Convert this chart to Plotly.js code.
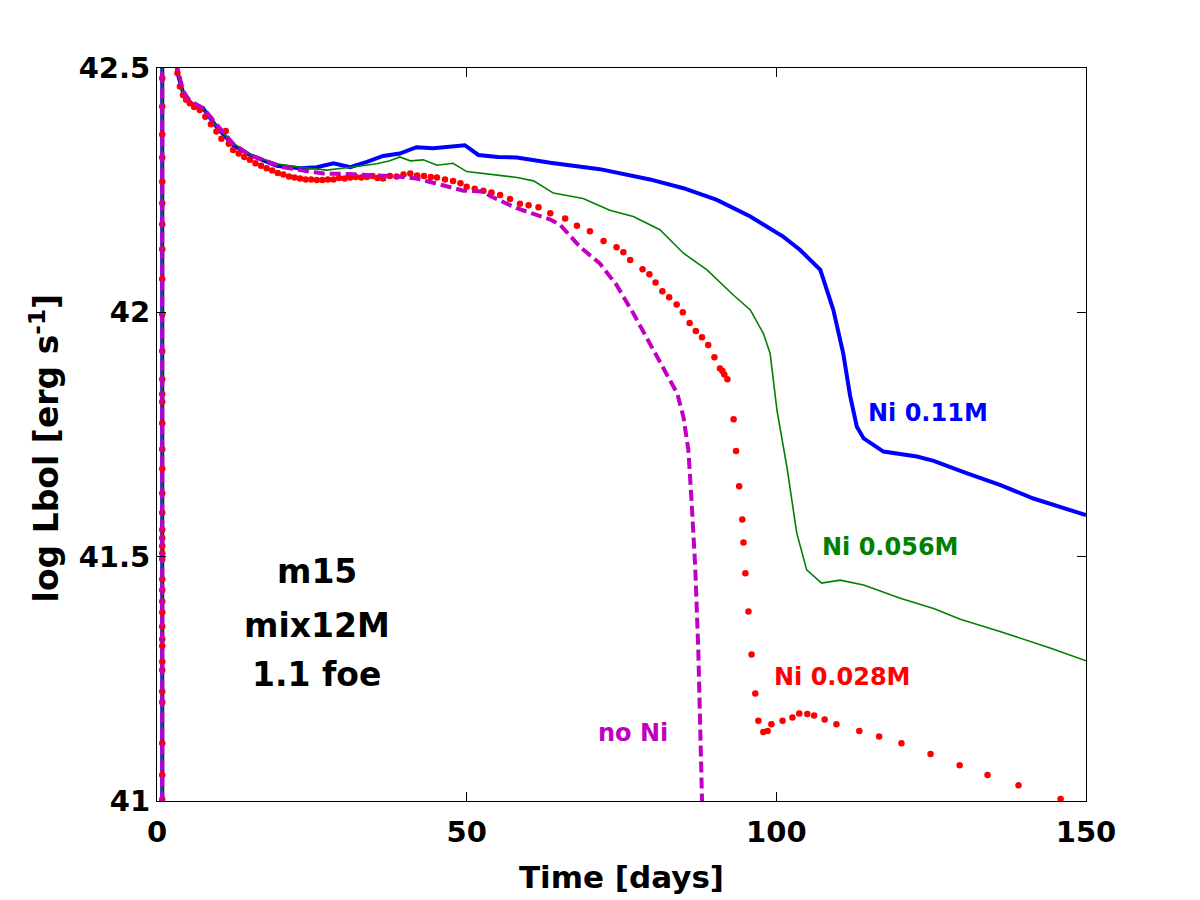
<!DOCTYPE html>
<html>
<head>
<meta charset="utf-8">
<script src="https://cdn.plot.ly/plotly-3.0.1.min.js"></script>
<style>html,body{margin:0;padding:0;background:#fff;}#plot{width:1200px;height:900px;}</style>
</head>
<body>
<div id="plot"></div>
<script>
// ---- Data ----
const blueT = [0.85, 0.85, 3.3, 4.25, 5.33, 7.48, 9.6, 12.3, 15, 19.3, 23.1, 25.8, 28.5, 31.2, 33.9, 36.5, 39.2, 40.9, 41.9, 44.6, 47.3, 49.7, 51.9, 55, 58.1, 63.5, 71.5, 79.6, 85, 90.4, 95.8, 101.1, 103.8, 107.1, 109.2, 110.8, 111.9, 113.0, 114.1, 117.3, 122.7, 125.4, 130.7, 136.1, 141.5, 150];
const blueL = [40.8, 43.0, 42.49, 42.448, 42.428, 42.417, 42.38, 42.342, 42.322, 42.30, 42.295, 42.297, 42.305, 42.297, 42.308, 42.32, 42.325, 42.333, 42.338, 42.336, 42.339, 42.342, 42.322, 42.318, 42.317, 42.306, 42.293, 42.272, 42.254, 42.23, 42.196, 42.155, 42.128, 42.087, 42.005, 41.916, 41.83, 41.766, 41.742, 41.715, 41.705, 41.696, 41.671, 41.647, 41.619, 41.585];

const greenT = [0.85, 0.85, 3.3, 4.25, 5.33, 7.48, 9.6, 12.3, 15, 19.3, 23.1, 27.4, 31.2, 35.5, 37.6, 39.2, 40.9, 43.0, 45.2, 47.8, 50.0, 52.7, 55.4, 58.1, 60.8, 62.0, 64.0, 68.8, 73.1, 76.9, 81.2, 85.0, 88.8, 93.1, 95.8, 97.9, 99.0, 100.1, 101.7, 103.3, 104.9, 107.3, 110.3, 114.1, 120, 125.4, 129.7, 136.1, 144.2, 150];
const greenL = [40.8, 43.0, 42.49, 42.448, 42.428, 42.417, 42.38, 42.346, 42.323, 42.304, 42.297, 42.291, 42.297, 42.304, 42.31, 42.318, 42.310, 42.312, 42.301, 42.305, 42.288, 42.284, 42.281, 42.276, 42.269, 42.26, 42.244, 42.233, 42.209, 42.196, 42.169, 42.121, 42.087, 42.035, 42.005, 41.957, 41.916, 41.80, 41.684, 41.548, 41.473, 41.446, 41.452, 41.442, 41.415, 41.394, 41.372, 41.347, 41.313, 41.287];

const magT = [0.85, 0.85, 3.3, 4.25, 5.33, 7.48, 9.6, 12.3, 15, 17.7, 20.4, 23.1, 26.9, 31.2, 35.5, 38.7, 41.9, 44.6, 47.3, 49.5, 52.7, 53.8, 58.1, 60.8, 63.5, 65.1, 68.3, 71.5, 74.2, 76.9, 79.6, 82.3, 84.0, 85.0, 85.8, 86.3, 86.9, 87.4, 87.9, 88.1, 88.2];
const magL = [40.8, 43.0, 42.50, 42.452, 42.432, 42.418, 42.385, 42.345, 42.322, 42.31, 42.297, 42.291, 42.284, 42.283, 42.281, 42.278, 42.274, 42.265, 42.256, 42.249, 42.247, 42.238, 42.213, 42.201, 42.19, 42.179, 42.134, 42.10, 42.056, 41.998, 41.937, 41.875, 41.834, 41.786, 41.718, 41.616, 41.48, 41.309, 41.104, 41.009, 40.9];

// red (Ni 0.028M) dots: the rise at t~0.85, then the light curve
const redRiseL = [41.003, 41.053, 41.118, 41.202, 41.224, 41.268, 41.285, 41.317, 41.331, 41.357, 41.386, 41.408, 41.432, 41.454, 41.495, 41.507, 41.522, 41.538, 41.555, 41.59, 41.63, 41.68, 41.72, 41.773, 41.817, 41.833, 41.863, 41.921, 41.996, 42.068, 42.129, 42.18, 42.223, 42.267, 42.317, 42.364, 42.421, 42.479];
const redCurveT = [3.3, 3.7, 4.2, 4.7, 5.3, 6.0, 6.9, 7.8, 8.7, 9.6, 10.4, 11.1, 11.6, 12.3, 13.2, 14.1, 15.0, 15.9, 16.8, 17.7, 18.6, 19.5, 20.4, 21.3, 22.2, 23.1, 24.0, 24.9, 25.8, 26.7, 27.6, 28.5, 29.4, 30.3, 31.2, 32.1, 33.0, 33.9, 34.8, 35.6, 36.5, 37.6, 38.7, 39.8, 40.9, 42.0, 43.1, 44.2, 45.2, 46.5, 47.8, 49.0, 50.0, 51.3, 52.7, 54.0, 55.4, 57.0, 58.6, 60.0, 61.6, 63.5, 65.9, 67.8, 69.9, 72.1, 74.2, 75.3, 76.4, 78.4, 79.5, 80.5, 81.6, 82.7, 83.9, 84.9, 86.0, 87.0, 88.0, 89.0, 90.0, 90.9, 91.3, 91.6, 92.1, 93.1, 93.5, 94.0, 94.5, 94.7, 95.0, 95.5, 96.0, 96.6, 97.1, 97.9, 98.6, 99.2, 101.0, 102.6, 103.7, 105.0, 106.1, 107.8, 109.7, 113.4, 116.6, 120.2, 124.9, 129.6, 134.1, 139.1, 145.9];
const redCurveL = [42.49, 42.462, 42.445, 42.435, 42.428, 42.42, 42.414, 42.40, 42.385, 42.37, 42.355, 42.371, 42.345, 42.332, 42.325, 42.318, 42.312, 42.305, 42.30, 42.295, 42.29, 42.285, 42.282, 42.278, 42.276, 42.274, 42.272, 42.272, 42.271, 42.271, 42.272, 42.272, 42.275, 42.274, 42.276, 42.277, 42.276, 42.277, 42.279, 42.275, 42.274, 42.279, 42.278, 42.282, 42.284, 42.280, 42.279, 42.277, 42.276, 42.272, 42.269, 42.264, 42.257, 42.253, 42.249, 42.245, 42.24, 42.232, 42.222, 42.219, 42.215, 42.203, 42.192, 42.177, 42.166, 42.146, 42.133, 42.123, 42.107, 42.088, 42.078, 42.061, 42.043, 42.031, 42.016, 42.0, 41.978, 41.962, 41.949, 41.933, 41.908, 41.885, 41.88, 41.873, 41.863, 41.781, 41.716, 41.644, 41.576, 41.529, 41.466, 41.388, 41.30, 41.22, 41.164, 41.141, 41.143, 41.157, 41.164, 41.171, 41.179, 41.178, 41.175, 41.167, 41.157, 41.143, 41.132, 41.118, 41.096, 41.073, 41.053, 41.032, 41.004];

const xTicks = [0, 50, 100, 150];
const yTicks = [41, 41.5, 42, 42.5];
const yTickText = ['41', '41.5', '42', '42.5'];

// ---- Build ----
const redT = redRiseL.map(() => 0.85).concat(redCurveT);
const redL = redRiseL.concat(redCurveL);

const FONT = 'DejaVu Sans, Arial, sans-serif';

const traces = [
  {x: blueT, y: blueL, mode: 'lines', line: {color: '#0000ff', width: 4}, hoverinfo: 'skip'},
  {x: greenT, y: greenL, mode: 'lines', line: {color: '#008000', width: 1.6}, hoverinfo: 'skip'},
  {x: redT, y: redL, mode: 'markers', marker: {color: '#ff0000', size: 6.5, symbol: 'circle'}, hoverinfo: 'skip'},
  {x: magT, y: magL, mode: 'lines', line: {color: '#bf00bf', width: 4, dash: '11px,5px'}, hoverinfo: 'skip'}
];

function ann(text, x, y, color, size) {
  return {text: text, x: x, y: y, xref: 'x', yref: 'y', showarrow: false,
    font: {family: FONT, size: size, color: color, weight: 'bold'}, xanchor: 'center', yanchor: 'middle'};
}

const yTitle = {text: 'log Lbol [erg s<sup>-1</sup>]', xref: 'paper', yref: 'paper', x: -0.1206, y: 0.481,
  textangle: -90, showarrow: false, xanchor: 'center', yanchor: 'middle',
  font: {family: FONT, size: 33, color: '#000', weight: 'bold'}};

const layout = {
  width: 1200, height: 900,
  margin: {l: 157, r: 114, t: 68, b: 99},
  paper_bgcolor: '#ffffff', plot_bgcolor: '#ffffff',
  showlegend: false,
  font: {family: FONT, color: '#000'},
  xaxis: {
    range: [0, 150], tickvals: xTicks, ticks: 'inside', ticklen: 9, tickcolor: '#000',
    showline: true, linecolor: '#000', linewidth: 1, mirror: 'ticks', showgrid: false, zeroline: false,
    tickfont: {family: FONT, size: 29, color: '#000', weight: 'bold'},
    ticklabelstandoff: 5,
    title: {text: 'Time [days]', font: {family: FONT, size: 31, color: '#000', weight: 'bold'}, standoff: 18}
  },
  yaxis: {
    range: [41, 42.5], tickvals: yTicks, ticktext: yTickText, ticks: 'inside', ticklen: 9, tickcolor: '#000',
    showline: true, linecolor: '#000', linewidth: 1, mirror: 'ticks', showgrid: false, zeroline: false,
    tickfont: {family: FONT, size: 29, color: '#000', weight: 'bold'}
  },
  annotations: [
    yTitle,
    ann('Ni 0.11M', 124.5, 41.794, '#0000ff', 24),
    ann('Ni 0.056M', 118.4, 41.52, '#008000', 24),
    ann('Ni 0.028M', 110.6, 41.254, '#ff0000', 24),
    ann('no Ni', 76.9, 41.139, '#bf00bf', 24),
    ann('m15', 25.8, 41.470, '#000', 33),
    ann('mix12M', 25.8, 41.360, '#000', 33),
    ann('1.1 foe', 25.8, 41.258, '#000', 33)
  ]
};

Plotly.newPlot('plot', traces, layout, {staticPlot: true, displayModeBar: false});
</script>
</body>
</html>
